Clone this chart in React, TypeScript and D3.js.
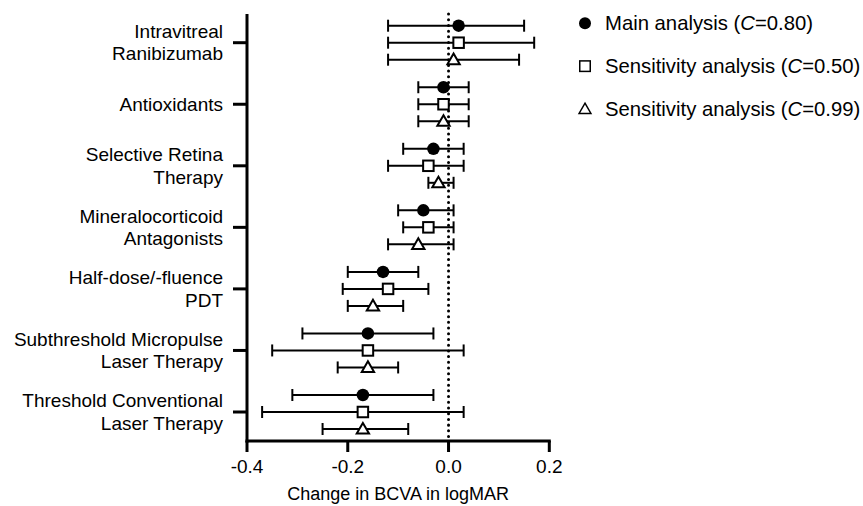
import React, { useEffect, useRef } from 'react';
import * as d3 from 'd3';

const categories = [
  ['Intravitreal', 'Ranibizumab'],
  ['Antioxidants'],
  ['Selective Retina', 'Therapy'],
  ['Mineralocorticoid', 'Antagonists'],
  ['Half-dose/-fluence', 'PDT'],
  ['Subthreshold Micropulse', 'Laser Therapy'],
  ['Threshold Conventional', 'Laser Therapy'],
];

const seriesNames = ['main', 'c050', 'c099'];
const legendParts = [
  ['Main analysis (', '=0.80)'],
  ['Sensitivity analysis (', '=0.50)'],
  ['Sensitivity analysis (', '=0.99)'],
];

// [estimate, lower, upper] per category
const mainValues = [
  [0.02, -0.12, 0.15],
  [-0.01, -0.06, 0.04],
  [-0.03, -0.09, 0.03],
  [-0.05, -0.1, 0.01],
  [-0.13, -0.2, -0.06],
  [-0.16, -0.29, -0.03],
  [-0.17, -0.31, -0.03],
];
const sens050Values = [
  [0.02, -0.12, 0.17],
  [-0.01, -0.06, 0.04],
  [-0.04, -0.12, 0.03],
  [-0.04, -0.09, 0.01],
  [-0.12, -0.21, -0.04],
  [-0.16, -0.35, 0.03],
  [-0.17, -0.37, 0.03],
];
const sens099Values = [
  [0.01, -0.12, 0.14],
  [-0.01, -0.06, 0.04],
  [-0.02, -0.04, 0.01],
  [-0.06, -0.12, 0.01],
  [-0.15, -0.2, -0.09],
  [-0.16, -0.22, -0.1],
  [-0.17, -0.25, -0.08],
];
const xTicks = [-0.4, -0.2, 0.0, 0.2];

const App = () => {
  const ref = useRef<SVGSVGElement | null>(null);

  useEffect(() => {
    const width = 863;
    const height = 506;
    const font = "'Liberation Sans', Arial, Helvetica, sans-serif";

    const svg = d3.select(ref.current);
    svg.selectAll('*').remove();
    svg.attr('width', width).attr('height', height);

    const x = d3.scaleLinear().domain([-0.4, 0.2]).range([247, 549.3]);
    const catKeys = categories.map((c) => c.join(' '));
    const y = d3.scalePoint().domain(catKeys).range([42.7, 412]);
    const offset = d3.scalePoint().domain(seriesNames).range([-17, 17]);
    const axisTop = 14;
    const axisBottom = 441;

    const g = svg.append('g').style('font-family', font);

    // zero reference line
    g.append('line')
      .attr('x1', x(0))
      .attr('x2', x(0))
      .attr('y1', axisTop)
      .attr('y2', axisBottom)
      .attr('stroke', '#000')
      .attr('stroke-width', 3)
      .attr('stroke-linecap', 'round')
      .attr('stroke-dasharray', '0.01 5.7');

    // axes
    g.append('line')
      .attr('x1', x(-0.4))
      .attr('x2', x(-0.4))
      .attr('y1', axisTop)
      .attr('y2', axisBottom + 1.5)
      .attr('stroke', '#000')
      .attr('stroke-width', 3);
    g.append('line')
      .attr('x1', x(-0.4) - 1.5)
      .attr('x2', x(0.2) + 1.5)
      .attr('y1', axisBottom)
      .attr('y2', axisBottom)
      .attr('stroke', '#000')
      .attr('stroke-width', 3);

    xTicks.forEach((t) => {
      g.append('line')
        .attr('x1', x(t))
        .attr('x2', x(t))
        .attr('y1', axisBottom)
        .attr('y2', axisBottom + 11)
        .attr('stroke', '#000')
        .attr('stroke-width', 3);
      g.append('text')
        .attr('x', x(t))
        .attr('y', 473)
        .attr('text-anchor', 'middle')
        .style('font-size', '19px')
        .text(t.toFixed(1));
    });

    g.append('text')
      .attr('x', (x(-0.4) + x(0.2)) / 2)
      .attr('y', 500)
      .attr('text-anchor', 'middle')
      .style('font-size', '18px')
      .text('Change in BCVA in logMAR');

    categories.forEach((lines, i) => {
      const cy = y(catKeys[i]) as number;
      g.append('line')
        .attr('x1', 233)
        .attr('x2', x(-0.4))
        .attr('y1', cy)
        .attr('y2', cy)
        .attr('stroke', '#000')
        .attr('stroke-width', 3);
      const txt = g
        .append('text')
        .attr('text-anchor', 'end')
        .style('font-size', '19px');
      lines.forEach((line, j) => {
        const dy = lines.length === 1 ? 0 : j === 0 ? -11.2 : 11.2;
        txt
          .append('tspan')
          .attr('x', 223)
          .attr('y', cy + dy)
          .attr('dominant-baseline', 'central')
          .text(line);
      });
    });

    const drawMarker = (sel: any, kind: string, cx: number, cy: number, s: number, sw: number) => {
      if (kind === 'main') {
        sel.append('circle').attr('cx', cx).attr('cy', cy).attr('r', s / 2).attr('fill', '#000');
      } else if (kind === 'c050') {
        const a = s - sw;
        sel
          .append('rect')
          .attr('x', cx - a / 2)
          .attr('y', cy - a / 2)
          .attr('width', a)
          .attr('height', a)
          .attr('fill', '#fff')
          .attr('stroke', '#000')
          .attr('stroke-width', sw);
      } else {
        const sym = d3.symbol().type(d3.symbolTriangle).size(s * s * 0.42);
        sel
          .append('path')
          .attr('d', sym() as string)
          .attr('transform', `translate(${cx},${cy + 1})`)
          .attr('fill', '#fff')
          .attr('stroke', '#000')
          .attr('stroke-width', sw);
      }
    };

    const allSeries = [mainValues, sens050Values, sens099Values];
    allSeries.forEach((vals, si) => {
      const kind = seriesNames[si];
      vals.forEach((v, ci) => {
        const cy = (y(catKeys[ci]) as number) + (offset(kind) as number);
        const [est, lo, hi] = v;
        g.append('line')
          .attr('x1', x(lo))
          .attr('x2', x(hi))
          .attr('y1', cy)
          .attr('y2', cy)
          .attr('stroke', '#000')
          .attr('stroke-width', 2);
        [lo, hi].forEach((b) => {
          g.append('line')
            .attr('x1', x(b))
            .attr('x2', x(b))
            .attr('y1', cy - 6)
            .attr('y2', cy + 6)
            .attr('stroke', '#000')
            .attr('stroke-width', 2);
        });
        drawMarker(g, kind, x(est), cy, 12.5, 2);
      });
    });

    // legend
    const legendY = d3.scalePoint().domain(seriesNames).range([23.3, 109]);
    seriesNames.forEach((kind, i) => {
      const ly = legendY(kind) as number;
      drawMarker(g, kind, 585, ly, 12, 1.5);
      const t = g
        .append('text')
        .attr('x', 605)
        .attr('y', ly)
        .attr('dominant-baseline', 'central')
        .style('font-size', '20.3px');
      t.append('tspan').text(legendParts[i][0]);
      t.append('tspan').style('font-style', 'italic').text('C');
      t.append('tspan').text(legendParts[i][1]);
    });
  }, []);

  return (
    <div style={{ position: 'absolute', left: 0, top: 0 }}>
      <svg ref={ref} style={{ display: 'block', background: '#fff' }}></svg>
    </div>
  );
};

export default App;
